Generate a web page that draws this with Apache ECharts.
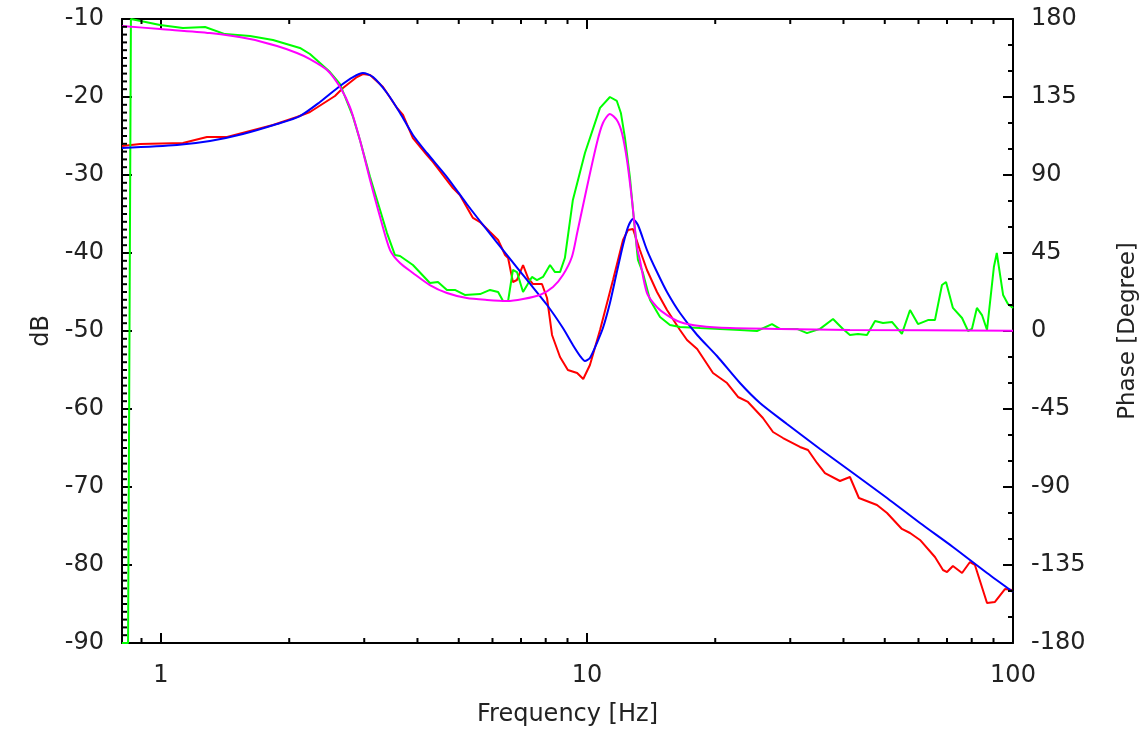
<!DOCTYPE html>
<html><head><meta charset="utf-8">
<script src="https://cdn.jsdelivr.net/npm/echarts@6/dist/echarts.min.js"></script>
<style>html,body{margin:0;padding:0;background:#fff}#c{width:1148px;height:732px}</style>
</head><body><div id="c"></div>
<script>
// Tick labels / minor ticks on the log frequency axis
const xTickLabels = [1, 10, 100];
const minorTickFreqs = [0.9, 2, 3, 4, 5, 6, 7, 8, 9, 20, 30, 40, 50, 60, 70, 80, 90];
// Minor tick steps of the two value axes
const dbMinorStep = 1;      // dB
const phaseMinorStep = 15;  // degree

// Measured magnitude [Hz, dB] (red)
const measuredMag = [
 [0.810,-26.28],[0.893,-26.03],[1.126,-25.90],[1.282,-25.13],[1.429,-25.13],[1.618,-24.36],[1.832,-23.59],[2.085,-22.56],[2.237,-21.92],[2.561,-19.87],
 [2.674,-18.85],[2.884,-17.44],[2.979,-17.05],[3.096,-17.18],[3.321,-18.72],[3.581,-21.41],[3.699,-22.31],[3.903,-25.26],[4.210,-27.44],[4.347,-28.33],
 [4.845,-31.67],[5.030,-32.56],[5.399,-35.51],[5.610,-36.03],[5.921,-37.31],[6.185,-38.33],[6.423,-40.26],[6.529,-40.64],[6.700,-43.72],[6.849,-43.46],
 [7.078,-41.54],[7.273,-43.21],[7.463,-43.97],[7.840,-43.97],[8.058,-45.77],[8.278,-50.51],[8.643,-53.33],[9.018,-55.00],[9.482,-55.38],[9.799,-56.15],
 [10.16,-54.36],[10.73,-49.87],[11.51,-43.46],[12.15,-38.33],[12.48,-37.05],[12.82,-36.92],[13.31,-39.62],[13.83,-42.18],[14.60,-45.00],[15.41,-47.31],
 [16.53,-49.87],[17.17,-51.15],[18.14,-52.31],[19.76,-55.38],[21.32,-56.67],[22.62,-58.46],[23.87,-59.10],[25.88,-61.15],[27.33,-62.95],[28.85,-63.72],
 [31.62,-64.87],[33.02,-65.26],[34.67,-66.92],[36.19,-68.21],[39.25,-69.23],[41.42,-68.72],[43.48,-71.41],[47.94,-72.31],[50.62,-73.33],[54.85,-75.38],
 [57.32,-75.90],[60.49,-76.79],[65.58,-78.97],[68.49,-80.64],[70.01,-80.90],[72.27,-80.13],[75.93,-81.03],[79.25,-79.62],[81.40,-80.00],[86.90,-84.87],
 [90.70,-84.74],[95.73,-83.08],[99.50,-83.21]
];

// Model magnitude [Hz, dB] (blue)
const modelMag = [
 [0.810,-26.54],[1.090,-26.15],[1.303,-25.64],[1.557,-24.74],[1.872,-23.46],[2.119,-22.44],[2.362,-20.64],[2.631,-18.59],[2.824,-17.44],[2.979,-16.92],
 [3.146,-17.44],[3.393,-19.49],[3.640,-22.05],[3.903,-24.87],[4.210,-27.18],[4.691,-30.26],[5.222,-33.72],[5.824,-37.05],[6.492,-40.26],[7.230,-43.46],
 [8.058,-46.67],[8.780,-49.62],[9.265,-51.79],[9.636,-53.21],[9.890,-53.85],[10.16,-53.46],[10.55,-51.54],[10.90,-49.62],[11.32,-46.41],[11.75,-42.44],
 [12.15,-38.97],[12.48,-36.67],[12.82,-35.64],[13.17,-36.41],[13.83,-39.62],[14.60,-42.44],[15.41,-45.00],[16.53,-47.69],[18.14,-50.51],[20.19,-53.21],
 [22.86,-56.67],[25.47,-59.23],[29.47,-61.92],[35.24,-65.13],[42.11,-68.21],[50.62,-71.41],[60.49,-74.62],[72.27,-77.69],[86.90,-81.03],[100,-83.46]
];

// Measured phase [Hz, degree] (green)
const measuredPhase = [
 [0.810,-180],[0.837,-180],[0.850,180],[0.995,176.5],[1.126,174.8],[1.269,175.4],[1.413,171.3],[1.618,170.2],[1.832,167.9],[2.119,163.3],
 [2.237,159.8],[2.362,154.6],[2.493,149.4],[2.631,142.5],[2.824,123.5],[2.931,110.2],[3.096,88.8],[3.268,69.8],[3.393,56.5],[3.540,43.9],
 [3.640,43.3],[3.903,38.1],[4.278,27.7],[4.468,28.3],[4.691,23.7],[4.897,23.7],[5.167,20.8],[5.610,21.3],[5.921,23.7],[6.185,22.5],
 [6.353,17.3],[6.529,17.3],[6.700,35.2],[6.849,34.0],[7.078,22.5],[7.426,31.2],[7.630,29.4],[7.883,31.2],[8.189,38.1],[8.412,34.0],
 [8.643,34.0],[8.873,42.1],[9.265,75.6],[9.890,102.7],[10.73,128.7],[11.32,135.0],[11.75,132.7],[12.01,125.8],[12.27,111.9],[12.61,88.8],
 [12.89,64.0],[13.17,41.0],[13.53,33.5],[14.06,17.9],[14.84,8.1],[15.66,3.5],[16.53,2.3],[18.42,1.7],[20.52,1.2],[22.86,0.6],
 [25.06,0.0],[27.18,4.0],[28.38,1.2],[31.11,1.2],[32.84,-1.2],[35.24,1.2],[37.80,6.9],[39.89,1.2],[41.42,-2.3],[43.26,-1.7],
 [45.42,-2.3],[47.44,5.8],[49.53,4.6],[51.99,5.2],[54.85,-1.7],[57.32,12.1],[59.84,4.0],[63.14,6.3],[65.58,6.3],[68.12,26.5],
 [69.63,28.3],[72.27,13.3],[75.93,7.5],[78.44,0.0],[80.09,1.2],[82.27,13.3],[84.57,9.2],[86.90,0.6],[90.18,36.9],[91.61,45.0],
 [94.79,20.8],[97.31,15.6],[100,13.3]
];

// Model phase [Hz, degree] (magenta)
const modelPhase = [
 [0.810,176.0],[0.995,174.2],[1.303,171.9],[1.618,168.5],[1.872,164.4],[2.085,160.4],[2.237,156.9],[2.453,150.6],[2.631,140.8],[2.777,129.2],
 [2.931,110.2],[3.096,87.1],[3.268,65.8],[3.449,46.7],[3.640,39.2],[3.903,33.5],[4.278,26.5],[4.691,21.9],[5.222,19.0],[5.824,17.9],
 [6.492,17.3],[7.078,18.5],[7.755,20.8],[8.322,25.4],[8.780,32.3],[9.215,42.7],[9.482,56.5],[10.0,83.1],[10.55,108.5],[10.90,120.0],
 [11.32,125.2],[11.75,121.7],[12.08,114.2],[12.41,98.7],[12.75,75.6],[13.10,48.5],[13.31,41.0],[13.83,21.9],[14.60,13.8],[15.41,9.2],
 [16.53,5.2],[18.42,2.9],[21.66,1.7],[28.38,1.2],[41.42,0.6],[100,0.2]
];

const FONT = 'DejaVu Sans';
const TXT = '#222';
const frameLine = { show: true, onZero: false, lineStyle: { color: '#000', width: 2 } };
const tickStyle = { color: '#000', width: 2 };

// minor tick values for the value axes (axis decoration only)
const dbMinorTicks = [];
for (let v = -90 + dbMinorStep; v < -10; v += dbMinorStep) if (v % 10 !== 0) dbMinorTicks.push([1, v]);
const phaseMinorTicks = [];
for (let v = -180 + phaseMinorStep; v < 180; v += phaseMinorStep) if (v % 45 !== 0) phaseMinorTicks.push([1, v]);

function yMinorTickSeries(data, yIdx, side) {
  return {
    type: 'custom', xAxisIndex: 0, yAxisIndex: yIdx, silent: true, clip: false, z: 10,
    data: data,
    renderItem: function (params, api) {
      const cs = params.coordSys;
      const y = api.coord([api.value(0), api.value(1)])[1];
      const x0 = side === 'left' ? cs.x : cs.x + cs.width;
      const x1 = side === 'left' ? x0 + 5 : x0 - 5;
      return { type: 'line', shape: { x1: x0, y1: y, x2: x1, y2: y }, style: { stroke: '#000', lineWidth: 2 } };
    }
  };
}

const chart = echarts.init(document.getElementById('c'), null, { renderer: 'canvas' });
const option = {
  animation: false,
  backgroundColor: '#fff',
  grid: { left: 122, right: 135, top: 19, bottom: 89 },
  xAxis: [
    {
      type: 'log', logBase: 10, min: 0.81, max: 100, position: 'bottom',
      axisLine: frameLine,
      axisTick: { show: true, inside: true, length: 10, lineStyle: tickStyle },
      axisLabel: {
        margin: 21, fontFamily: FONT, fontSize: 24, color: TXT,
        formatter: function (v) {
          const r = Math.round(v * 1000) / 1000;
          return xTickLabels.indexOf(r) >= 0 ? String(r) : '';
        }
      },
      splitLine: { show: false },
      name: 'Frequency [Hz]', nameLocation: 'middle', nameGap: 60,
      nameTextStyle: { fontFamily: FONT, fontSize: 24, color: TXT }
    },
    {
      type: 'log', logBase: 10, min: 0.81, max: 100, position: 'top',
      axisLine: frameLine,
      axisTick: { show: true, inside: true, length: 10, lineStyle: tickStyle },
      axisLabel: { show: false },
      splitLine: { show: false }
    }
  ],
  yAxis: [
    {
      type: 'value', min: -90, max: -10, interval: 10, position: 'left',
      axisLine: frameLine,
      axisTick: { show: true, inside: true, length: 10, lineStyle: tickStyle },
      axisLabel: { margin: 18, fontFamily: FONT, fontSize: 24, color: TXT, padding: [6, 0, 0, 0] },
      splitLine: { show: false },
      name: 'dB', nameLocation: 'middle', nameGap: 68,
      nameTextStyle: { fontFamily: FONT, fontSize: 24, color: TXT }
    },
    {
      type: 'value', min: -180, max: 180, interval: 45, position: 'right',
      axisLine: frameLine,
      axisTick: { show: true, inside: true, length: 10, lineStyle: tickStyle },
      axisLabel: { margin: 18, fontFamily: FONT, fontSize: 24, color: TXT, padding: [6, 0, 0, 0] },
      splitLine: { show: false },
      name: 'Phase [Degree]', nameLocation: 'middle', nameGap: 104,
      nameTextStyle: { fontFamily: FONT, fontSize: 23, color: TXT }
    }
  ],
  series: [
    { name: 'measured magnitude', type: 'line', xAxisIndex: 0, yAxisIndex: 0, data: measuredMag,
      showSymbol: false, lineStyle: { color: '#ff0000', width: 2 }, itemStyle: { color: '#ff0000' }, z: 2 },
    { name: 'measured phase', type: 'line', xAxisIndex: 0, yAxisIndex: 1, data: measuredPhase,
      showSymbol: false, lineStyle: { color: '#00ff00', width: 2 }, itemStyle: { color: '#00ff00' }, z: 2 },
    { name: 'model magnitude', type: 'line', xAxisIndex: 0, yAxisIndex: 0, data: modelMag, smooth: 0.25,
      showSymbol: false, lineStyle: { color: '#0000ff', width: 2 }, itemStyle: { color: '#0000ff' }, z: 3 },
    { name: 'model phase', type: 'line', xAxisIndex: 0, yAxisIndex: 1, data: modelPhase, smooth: 0.25,
      showSymbol: false, lineStyle: { color: '#ff00ff', width: 2 }, itemStyle: { color: '#ff00ff' }, z: 3 },
    { name: 'log minor ticks', type: 'custom', xAxisIndex: 0, yAxisIndex: 0, silent: true, clip: false, z: 10,
      data: minorTickFreqs.map(function (f) { return [f, -50]; }),
      renderItem: function (params, api) {
        const cs = params.coordSys;
        const x = api.coord([api.value(0), api.value(1)])[0];
        const b = cs.y + cs.height, t = cs.y;
        const st = { stroke: '#000', lineWidth: 2 };
        return { type: 'group', children: [
          { type: 'line', shape: { x1: x, y1: b, x2: x, y2: b - 5 }, style: st },
          { type: 'line', shape: { x1: x, y1: t, x2: x, y2: t + 5 }, style: st }
        ] };
      }
    },
    yMinorTickSeries(dbMinorTicks, 0, 'left'),
    yMinorTickSeries(phaseMinorTicks, 1, 'right')
  ]
};
chart.setOption(option);
</script>
</body></html>
